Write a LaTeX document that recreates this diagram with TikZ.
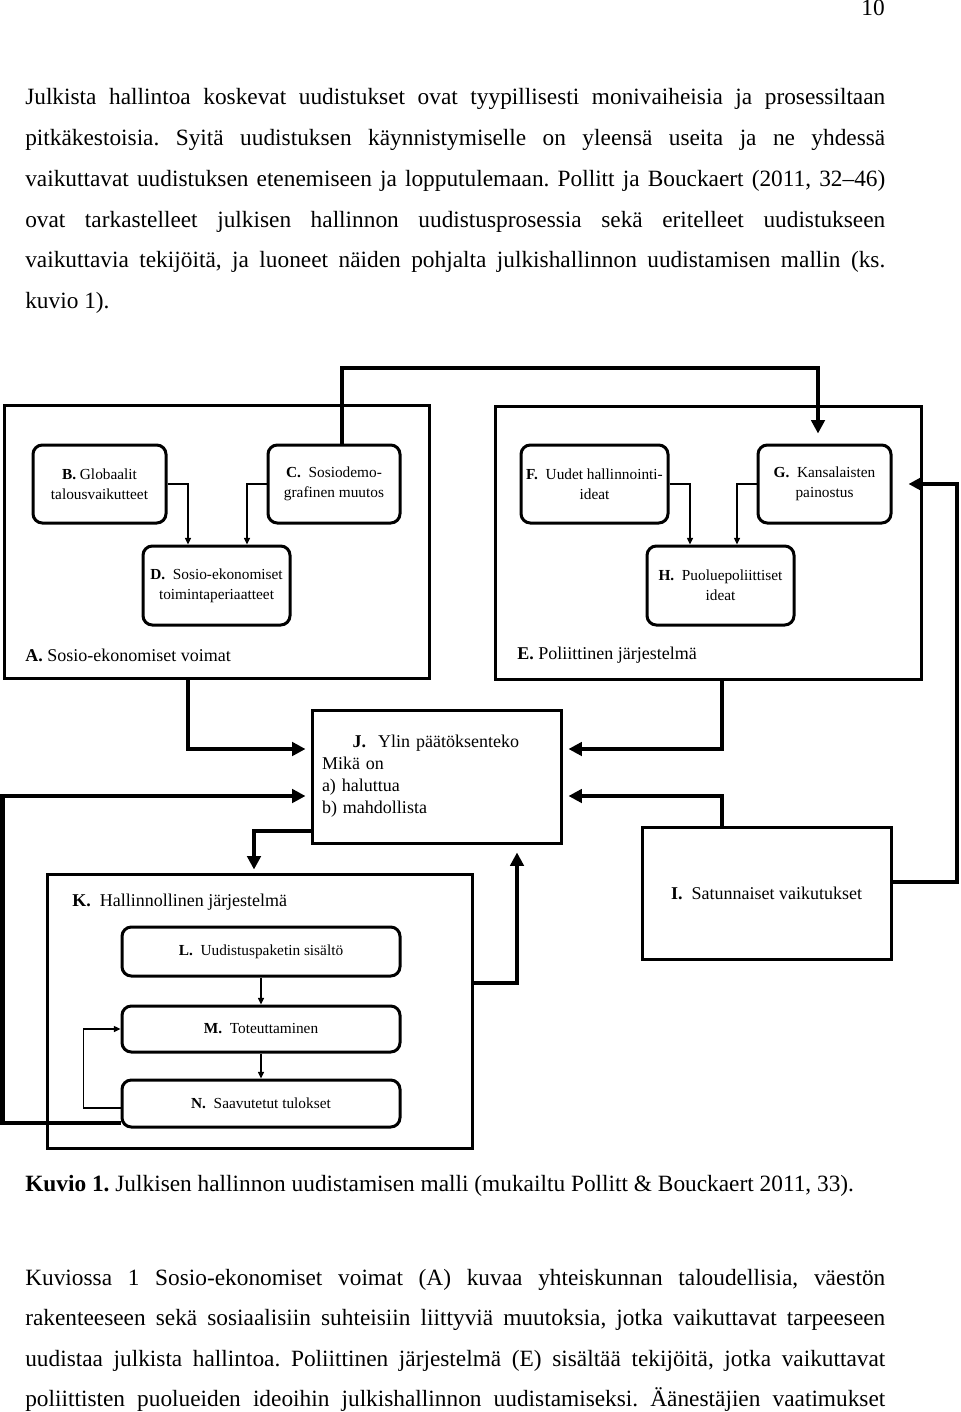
\documentclass[tikz,border=0pt]{standalone}
\usepackage{fontspec}
\setmainfont{Liberation Serif}
\usepackage{tikz}
\usetikzlibrary{arrows.meta,calc}
\frenchspacing

\begin{document}
\begin{tikzpicture}[x=0.75pt,y=0.75pt,yscale=-1,xscale=1,
  frame/.style={draw,line width=2.25pt,inner sep=0pt},
  rbox/.style={draw,line width=2.25pt,rounded corners=7pt,inner sep=0pt,align=center,font=\fontsize{11.5}{15}\selectfont},
  bigtext/.style={inner sep=0pt,font=\fontsize{13.5}{16.5}\selectfont},
  textline/.style={anchor=base west,inner sep=0pt,font=\fontsize{17.5}{20}\selectfont},
  thinarrow/.style={line width=1pt,-{Triangle[length=5pt,width=4.5pt]}},
  thickarrow/.style={line width=3pt,-{Triangle[length=10pt,width=10pt]}}]
%set diagram left start at 0, and has height of 1412
\useasboundingbox (0,0) rectangle (960,1412);

% Text Node
\node (pagenum) [textline,anchor=base east] at (885,16) {10};
% Text Node
\node (p1) [textline] at (25,105) {\makebox[645pt][s]{Julkista hallintoa koskevat uudistukset ovat tyypillisesti monivaiheisia ja prosessiltaan}};
% Text Node
\node (p2) [textline] at (25,145.7) {\makebox[645pt][s]{pitkäkestoisia. Syitä uudistuksen käynnistymiselle on yleensä useita ja ne yhdessä}};
% Text Node
\node (p3) [textline] at (25,186.4) {\makebox[645pt][s]{vaikuttavat uudistuksen etenemiseen ja lopputulemaan. Pollitt ja Bouckaert (2011, 32--46)}};
% Text Node
\node (p4) [textline] at (25,227.1) {\makebox[645pt][s]{ovat tarkastelleet julkisen hallinnon uudistusprosessia sekä eritelleet uudistukseen}};
% Text Node
\node (p5) [textline] at (25,267.8) {\makebox[645pt][s]{vaikuttavia tekijöitä, ja luoneet näiden pohjalta julkishallinnon uudistamisen mallin (ks.}};
% Text Node
\node (p6) [textline] at (25,308.5) {kuvio 1).};

% Box A
\node (A) [frame,minimum width=318.75pt,minimum height=204.75pt] at (216.5,541.5) {};
\node (B) [rbox,minimum width=99.75pt,minimum height=58.5pt] at (99.5,484) {\textbf{B.} Globaalit\\talousvaikutteet};
\node (C) [rbox,minimum width=99pt,minimum height=58.5pt] at (334,484) {\textbf{C.}\ \ Sosiodemo-\\grafinen muutos};
\node (D) [rbox,minimum width=110.25pt,minimum height=59.25pt] at (216.5,585.5) {\textbf{D.}\ \ Sosio-ekonomiset\\toimintaperiaatteet};
\node (Alabel) [bigtext,anchor=west] at (25,655) {\textbf{A.} Sosio-ekonomiset voimat};

% Box E
\node (E) [frame,minimum width=319.5pt,minimum height=204.75pt] at (708,542.5) {};
\node (F) [rbox,minimum width=110.25pt,minimum height=58.5pt] at (594.5,484) {\textbf{F.}\ \ Uudet hallinnointi-\\ideat};
\node (G) [rbox,minimum width=99.75pt,minimum height=58.5pt] at (824.5,484) {\textbf{G.}\ \ Kansalaisten\\painostus};
\node (H) [rbox,minimum width=110.25pt,minimum height=59.25pt] at (720.5,585.5) {\textbf{H.}\ \ Puoluepoliittiset\\ideat};
\node (Elabel) [bigtext,anchor=west] at (517,655) {\textbf{E.} Poliittinen järjestelmä};

% Box J
\node (J) [frame,minimum width=186.75pt,minimum height=99.75pt,text width=171.75pt,align=left,font=\fontsize{13.5}{16.5}\selectfont] at (436.5,776.5) {\hspace*{23pt}\textbf{J.}\ \ Ylin päätöksenteko\\Mikä on\\a) haluttua\\b) mahdollista};

% Box I
\node (I) [frame,minimum width=186.75pt,minimum height=99pt,font=\fontsize{13.5}{16.5}\selectfont] at (766.5,893) {\textbf{I.}\ \ Satunnaiset vaikutukset};

% Box K
\node (K) [frame,minimum width=318.75pt,minimum height=205.5pt] at (259.5,1011) {};
\node (Klabel) [bigtext,anchor=west] at (72,902) {\textbf{K.}\ \ Hallinnollinen järjestelmä};
\node (L) [rbox,minimum width=208.5pt,minimum height=36.75pt] at (261,951.5) {\textbf{L.}\ \ Uudistuspaketin sisältö};
\node (M) [rbox,minimum width=208.5pt,minimum height=34.5pt] at (261,1029) {\textbf{M.}\ \ Toteuttaminen};
\node (N) [rbox,minimum width=208.5pt,minimum height=35.25pt] at (261,1103.5) {\textbf{N.}\ \ Saavutetut tulokset};

% Connection
\draw [thinarrow] (B.east) -| ($(D.north)+(-28.5,0)$);
% Connection
\draw [thinarrow] (C.west) -| ($(D.north)+(30.5,0)$);
% Connection
\draw [thinarrow] (F.east) -| ($(H.north)+(-30.5,0)$);
% Connection
\draw [thinarrow] (G.west) -| ($(H.north)+(16.5,0)$);
% Connection
\draw [thickarrow] ($(C.north)+(8,0)$) -- ++(0,-76) -| ($(G.north)+(-6.5,-10)$);
% Connection
\draw [thickarrow] ($(A.south)+(-28.5,0)$) |- ($(J.west)+(-5,-27.5)$);
% Connection
\draw [thickarrow] ($(E.south)+(14,0)$) |- ($(J.east)+(6,-27.5)$);
% Connection
\draw [thickarrow] ($(I.north)+(-44.5,0)$) |- ($(J.east)+(6,19.5)$);
% Connection
\draw [thickarrow] ($(I.east)+(0,-11)$) -- ++(64,0) |- ($(G.east)+(16,0)$);
% Connection
\draw [thickarrow] ($(J.west)+(0,54.5)$) -| ($(K.north)+(-5.5,-3)$);
% Connection
\draw [thickarrow] ($(K.east)+(0,-28)$) -| ($(J.south)+(80.5,8)$);
% Connection
\draw [thickarrow] ($(N.west)+(0,19.5)$) -- ++(-118,0) |- ($(J.west)+(-5,19.5)$);
% Connection
\draw [thinarrow] (L) -- (M);
% Connection
\draw [thinarrow] (M) -- (N);
% Connection
\draw [thinarrow] ($(N.west)+(0,4.5)$) -- ++(-37,0) |- (M.west);

% Text Node
\node (caption) [textline] at (25,1191) {\textbf{Kuvio 1.} Julkisen hallinnon uudistamisen malli (mukailtu Pollitt \& Bouckaert 2011, 33).};
% Text Node
\node (q1) [textline] at (25,1285) {\makebox[645pt][s]{Kuviossa 1 Sosio-ekonomiset voimat (A) kuvaa yhteiskunnan taloudellisia, väestön}};
% Text Node
\node (q2) [textline] at (25,1325.5) {\makebox[645pt][s]{rakenteeseen sekä sosiaalisiin suhteisiin liittyviä muutoksia, jotka vaikuttavat tarpeeseen}};
% Text Node
\node (q3) [textline] at (25,1366) {\makebox[645pt][s]{uudistaa julkista hallintoa. Poliittinen järjestelmä (E) sisältää tekijöitä, jotka vaikuttavat}};
% Text Node
\node (q4) [textline] at (25,1406.5) {\makebox[645pt][s]{poliittisten puolueiden ideoihin julkishallinnon uudistamiseksi. Äänestäjien vaatimukset}};

\end{tikzpicture}
\end{document}
